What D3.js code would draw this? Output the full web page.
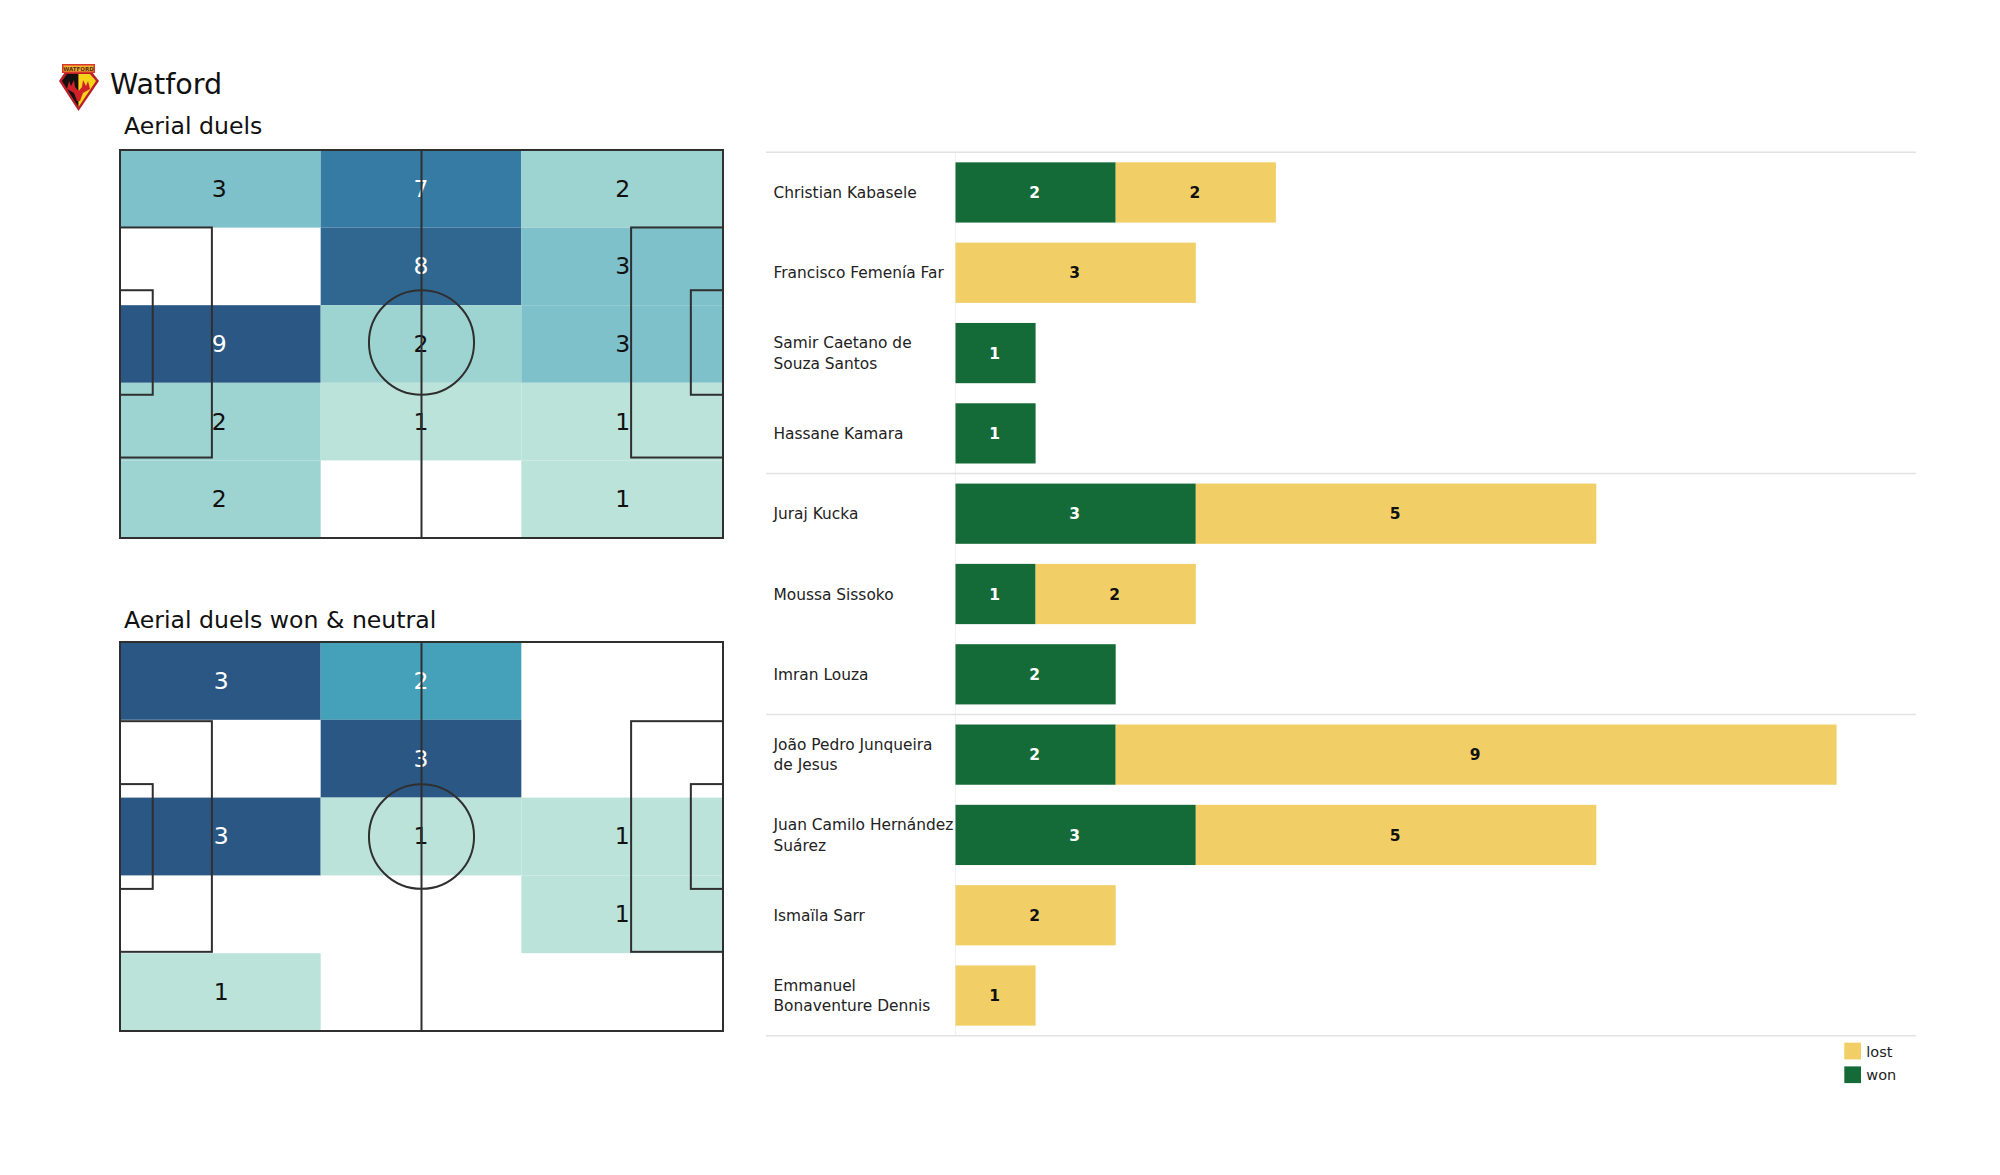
<!DOCTYPE html>
<html>
<head>
<meta charset="utf-8">
<title>Watford aerial duels</title>
<script src="https://cdn.jsdelivr.net/npm/d3@7"></script>
<style>
  body { margin: 0; background: #fff; }
  text { font-family: "DejaVu Sans", sans-serif; }
</style>
</head>
<body>
<div id="chart"></div>
<script>
const allDuels = [
  [3, 7, 2],
  [0, 8, 3],
  [9, 2, 3],
  [2, 1, 1],
  [2, 0, 1]
];
const wonDuels = [
  [3, 2, 0],
  [0, 3, 0],
  [3, 1, 1],
  [0, 0, 1],
  [1, 0, 0]
];
const players = [
  "Christian Kabasele", "Francisco Femenía Far", "Samir Caetano de|Souza Santos", "Hassane Kamara",
  "Juraj Kucka", "Moussa Sissoko", "Imran Louza",
  "João Pedro Junqueira|de Jesus", "Juan Camilo Hernández|Suárez", "Ismaïla Sarr", "Emmanuel|Bonaventure Dennis"
];
const won = [2, 0, 1, 1, 3, 1, 2, 2, 3, 0, 0];
const lost = [2, 3, 0, 0, 5, 2, 0, 9, 5, 2, 1];
const groupEnds = [0, 4, 7, 11];
const legendItems = ["lost", "won"];

const width = 2000;
const height = 1175;
const green = "#156b38";
const yellow = "#f1cf66";

const svg = d3.select("#chart").append("svg")
  .attr("width", width)
  .attr("height", height)
  .attr("viewBox", `0 0 ${width} ${height}`)
  .style("display", "block");

// title and crest
const crest = svg.append("g").attr("transform", "translate(59,64)");
crest.append("path").attr("d", "M0,17 L6,8 H33 L40,17 L19.5,47 Z").attr("fill", "#b81f2a");
crest.append("path").attr("d", "M3,17 L8,10 H19.5 V43 Z").attr("fill", "#14100e");
crest.append("path").attr("d", "M37,17 L31,10 H19.5 V43 Z").attr("fill", "#f7d417");
crest.append("path")
  .attr("d", "M10,17 L12,22 L15,16 L16,23 L19.5,27 L23,23 L24,16 L27,22 L29,17 L31,25 L24,29 L21,37 L18,37 L15,29 L8,25 Z")
  .attr("fill", "#d0202a");
crest.append("rect").attr("x", 3).attr("y", 0).attr("width", 33).attr("height", 9).attr("fill", "#d8372a");
crest.append("rect").attr("x", 4.5).attr("y", 1.5).attr("width", 30).attr("height", 6).attr("fill", "#f2b632");
crest.append("text").attr("x", 19.5).attr("y", 6.6).attr("text-anchor", "middle")
  .attr("font-size", 5.5).attr("font-weight", "bold").attr("fill", "#5a2a10").text("WATFORD");

svg.append("text").attr("x", 110).attr("y", 93.5).attr("font-size", 28.6).attr("fill", "#111").text("Watford");

// pitch heatmaps, pitch coords are metres
const tone = d3.scaleLinear()
  .domain([0, 0.125, 0.25, 0.5, 0.75, 0.875, 1])
  .range(["#bbe3da", "#9dd3d1", "#7fc1cb", "#45a0b9", "#357ba3", "#306790", "#2b5784"]);

function drawPitch(title, titleY, grid, top, bottom, markShift, colShift) {
  const g = svg.append("g");
  const left = 120;
  const right = 722;
  const px = d3.scaleLinear().domain([0, 105]).range([left, right + 1]);
  const py = d3.scaleLinear().domain([0, 68]).range([top, bottom]);
  const col = d3.scaleBand().domain(d3.range(3)).range([left, right]);
  const row = d3.scaleBand().domain(d3.range(5)).range([top, bottom]);
  const maxV = d3.max(grid.flat());
  const cells = grid.flatMap((vals, r) => vals.map((v, c) => ({ r, c, v }))).filter(d => d.v > 0);
  const norm = v => (v - 1) / (maxV - 1);

  g.append("text").attr("x", 124).attr("y", titleY).attr("font-size", 23.6).attr("fill", "#111").text(title);

  g.selectAll("rect.cell").data(cells).join("rect")
    .attr("class", "cell")
    .attr("x", d => col(d.c))
    .attr("y", d => row(d.r))
    .attr("width", col.bandwidth())
    .attr("height", row.bandwidth())
    .attr("fill", d => tone(norm(d.v)));

  g.selectAll("text.num").data(cells).join("text")
    .attr("class", "num")
    .attr("x", d => col(d.c) + col.bandwidth() / 2 + colShift[d.c])
    .attr("y", d => row(d.r) + row.bandwidth() / 2 - 0.5)
    .attr("dy", "0.36em")
    .attr("text-anchor", "middle")
    .attr("font-size", 23.5)
    .attr("fill", d => norm(d.v) >= 0.5 ? "#fff" : "#111")
    .text(d => d.v);

  const lines = g.append("g").attr("fill", "none").attr("stroke", "#2f2f2f").attr("stroke-width", 2);
  const box = (x0, y0, x1, y1, dy) => lines.append("rect")
    .attr("x", px(x0)).attr("y", py(y0) + dy)
    .attr("width", px(x1) - px(x0)).attr("height", py(y1) - py(y0));
  box(0, 0, 105, 68, 0);
  box(0, 13.84, 16, 54.16, markShift);
  box(89, 13.84, 105, 54.16, markShift);
  box(0, 24.84, 5.7, 43.16, markShift);
  box(99.4, 24.84, 105, 43.16, markShift);
  lines.append("line")
    .attr("x1", px(52.5)).attr("x2", px(52.5))
    .attr("y1", py(0)).attr("y2", py(68));
  lines.append("ellipse")
    .attr("cx", px(52.5)).attr("cy", py(34) + markShift)
    .attr("rx", px(9.15) - px(0)).attr("ry", py(9.15) - py(0));
}

drawPitch("Aerial duels", 134, allDuels, 150, 538, -1.5, [-1, 0, 1]);
drawPitch("Aerial duels won & neutral", 628, wonDuels, 642, 1031, 0, [1, 0, 0.5]);

// player bars
const x = d3.scaleLinear().domain([0, 1]).range([955.5, 1035.6]);
const y = d3.scaleBand().domain(d3.range(players.length)).range([152.3, 1035.7]).paddingInner(0.25).paddingOuter(0.125);
const step = y.step();
const bandTop = i => y(0) - (step - y.bandwidth()) / 2 + i * step;

const bars = svg.append("g");

bars.append("line")
  .attr("x1", x(0)).attr("x2", x(0))
  .attr("y1", bandTop(0)).attr("y2", bandTop(players.length))
  .attr("stroke", "#f0f0f0").attr("stroke-width", 1);

bars.selectAll("line.sep").data(groupEnds).join("line")
  .attr("class", "sep")
  .attr("x1", 766).attr("x2", 1916)
  .attr("y1", d => bandTop(d)).attr("y2", d => bandTop(d))
  .attr("stroke", "#e2e2e2").attr("stroke-width", 1.6);

const rows = players.map((name, i) => ({ name, i, won: won[i], lost: lost[i] }));

bars.selectAll("rect.won").data(rows.filter(d => d.won > 0)).join("rect")
  .attr("class", "won")
  .attr("x", x(0))
  .attr("y", d => y(d.i))
  .attr("width", d => x(d.won) - x(0))
  .attr("height", y.bandwidth())
  .attr("fill", green);

bars.selectAll("rect.lost").data(rows.filter(d => d.lost > 0)).join("rect")
  .attr("class", "lost")
  .attr("x", d => x(d.won))
  .attr("y", d => y(d.i))
  .attr("width", d => x(d.won + d.lost) - x(d.won))
  .attr("height", y.bandwidth())
  .attr("fill", yellow);

bars.selectAll("text.wonval").data(rows.filter(d => d.won > 0)).join("text")
  .attr("class", "wonval")
  .attr("x", d => x(d.won / 2) - 1)
  .attr("y", d => y(d.i) + y.bandwidth() / 2)
  .attr("dy", "0.36em")
  .attr("text-anchor", "middle")
  .attr("font-size", 15.5)
  .attr("font-weight", "bold")
  .attr("fill", "#fff")
  .text(d => d.won);

bars.selectAll("text.lostval").data(rows.filter(d => d.lost > 0)).join("text")
  .attr("class", "lostval")
  .attr("x", d => x(d.won + d.lost / 2) - 1)
  .attr("y", d => y(d.i) + y.bandwidth() / 2)
  .attr("dy", "0.36em")
  .attr("text-anchor", "middle")
  .attr("font-size", 15.5)
  .attr("font-weight", "bold")
  .attr("fill", "#111")
  .text(d => d.lost);

// labels wrap on |
const labels = bars.selectAll("text.player").data(rows).join("text")
  .attr("class", "player")
  .attr("font-size", 15.4)
  .attr("fill", "#222");

labels.each(function (d) {
  const parts = d.name.split("|");
  const mid = y(d.i) + y.bandwidth() / 2;
  d3.select(this).selectAll("tspan").data(parts).join("tspan")
    .attr("x", 773.5)
    .attr("y", (p, k) => mid + (k - (parts.length - 1) / 2) * 20.3)
    .attr("dy", "0.36em")
    .text(p => p);
});

// legend
const legend = svg.append("g").selectAll("g").data(legendItems).join("g")
  .attr("transform", (d, i) => `translate(1844.3,${1042.7 + i * 23.7})`);
legend.append("rect")
  .attr("width", 16.7).attr("height", 16.7)
  .attr("fill", d => d === "won" ? green : yellow);
legend.append("text")
  .attr("x", 22).attr("y", 8.6).attr("dy", "0.36em")
  .attr("font-size", 14.5).attr("fill", "#222")
  .text(d => d);
</script>
</body>
</html>
